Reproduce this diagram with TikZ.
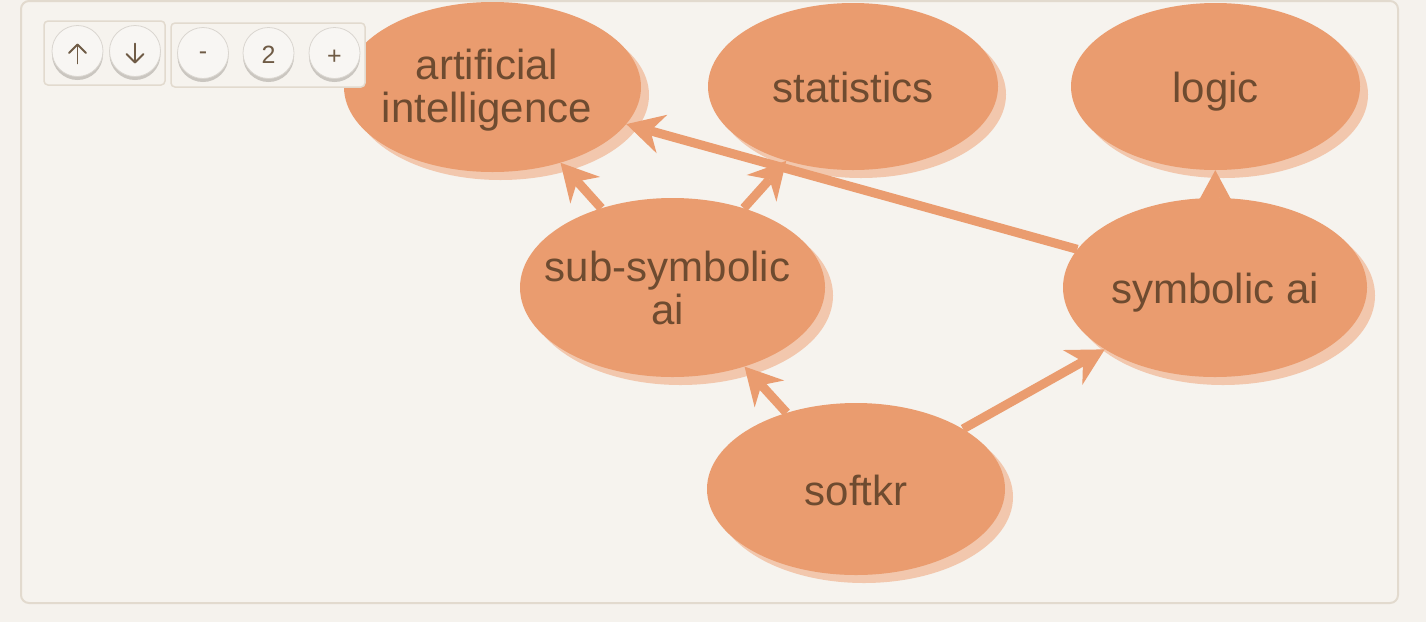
\documentclass[tikz,border=0pt]{standalone}
\usepackage{fontspec}
\setmainfont{Liberation Sans}
\usetikzlibrary{arrows.meta,shapes.geometric,shadows}
\definecolor{bgc}{HTML}{F5F2ED}
\definecolor{panelc}{HTML}{F6F3EE}
\definecolor{panelborder}{HTML}{E2DACE}
\definecolor{nodec}{HTML}{EA9C6F}
\definecolor{shadc}{HTML}{F2C7AD}
\definecolor{txtc}{HTML}{6E4B30}
\definecolor{btnfill}{HTML}{F8F6F3}
\definecolor{btnedge}{HTML}{DAD6D0}
\definecolor{btnshadow}{HTML}{CAC6C0}
\definecolor{glyphc}{HTML}{6F5B45}
\pgfdeclarelayer{shadowlayer}
\pgfdeclarelayer{edgelayer}
\pgfdeclarelayer{toplayer}
\pgfsetlayers{shadowlayer,edgelayer,main,toplayer}
\begin{document}
\begin{tikzpicture}[x=1pt,y=-1pt,
  blob/.style={ellipse, fill=nodec, draw=none, inner sep=0pt},
  lbl/.style={text=txtc, font=\fontsize{42}{43}\selectfont, align=center, inner sep=0pt, text depth=0pt},
  link/.style={draw=nodec, line width=9pt, -{Stealth[length=37pt,width=40pt,inset=12pt,line width=0pt]}},
  grp/.style={fill=panelc, draw=panelborder, line width=1.5pt, rounded corners=4pt},
  btn/.style={circle, minimum size=51pt, inner sep=0pt, fill=btnfill, draw=btnedge, line width=0.8pt,
    text=glyphc, general shadow={fill=btnshadow, draw=none, shadow yshift=-3.5pt}},
  btntxt/.style={text=glyphc, font=\fontsize{25}{25}\selectfont, inner sep=0pt},
  glyph/.style={draw=glyphc, line width=1.8pt, line cap=round, line join=round}
]
\useasboundingbox (0,0) rectangle (1426,622);

% nodes
\node[blob, minimum width=297pt, minimum height=170pt] (ai) at (492.5,87) {};
\node[blob, minimum width=290pt, minimum height=167pt] (stat) at (853,86.5) {};
\node[blob, minimum width=289pt, minimum height=167pt] (logic) at (1215.5,86.5) {};
\node[blob, minimum width=305pt, minimum height=179pt] (sub) at (672.5,287.5) {};
\node[blob, minimum width=304pt, minimum height=179pt] (sym) at (1215,287.5) {};
\node[blob, minimum width=298pt, minimum height=172pt] (soft) at (856,489) {};

\node[lbl] (ai-t) at ([shift={(-5.5,-1)}]ai.center) {artificial\\intelligence};
\node[lbl] (stat-t) at ([shift={(0,1)}]stat.center) {statistics};
\node[lbl] (logic-t) at ([shift={(0,1)}]logic.center) {logic};
\node[lbl] (sub-t) at ([shift={(-5,0)}]sub.center) {sub-symbolic\\ai};
\node[lbl] (sym-t) at ([shift={(0,1)}]sym.center) {symbolic ai};
\node[lbl] (soft-t) at ([shift={(0,1)}]soft.center) {softkr};

% background, panel and shadows
\begin{pgfonlayer}{shadowlayer}
  \fill[bgc] (0,0) rectangle (1426,622);
  \draw[fill=panelc, draw=panelborder, line width=2pt, rounded corners=8pt] (21,1) rectangle (1398,603);
  \fill[shadc] ([shift={(8,8)}]ai.center) ellipse [x radius=148.5pt, y radius=85pt];
  \fill[shadc] ([shift={(8,8)}]stat.center) ellipse [x radius=145pt, y radius=83.5pt];
  \fill[shadc] ([shift={(8,8)}]logic.center) ellipse [x radius=144.5pt, y radius=83.5pt];
  \fill[shadc] ([shift={(8,8)}]sub.center) ellipse [x radius=152.5pt, y radius=89.5pt];
  \fill[shadc] ([shift={(8,8)}]sym.center) ellipse [x radius=152pt, y radius=89.5pt];
  \fill[shadc] ([shift={(8,8)}]soft.center) ellipse [x radius=149pt, y radius=86pt];
\end{pgfonlayer}

% connectors
\begin{pgfonlayer}{edgelayer}
  \draw[link] (sub) -- (ai);
  \draw[link] (sub) -- (stat);
  \draw[link] (sym) -- (ai);
  \draw[link] (sym) -- (logic);
  \draw[link] (soft) -- (sub);
  \draw[link] (soft) -- (sym);
\end{pgfonlayer}

% controls
\begin{pgfonlayer}{toplayer}
  \draw[grp] (44,21) rectangle (165,85);
  \draw[grp] (171,23) rectangle (365,87);
  \node[btn] (up) at (77.5,51) {};
  \node[btn] (down) at (135,51) {};
  \node[btn] (minus) at (203,53) {};
  \node[btn] (level) at (268.5,53) {};
  \node[btn] (plus) at (334.5,53) {};
  \node[btntxt] (minus-t) at ([shift={(0,3)}]minus.center) {-};
  \node[btntxt] (level-t) at ([shift={(0,2)}]level.center) {2};
  \node[btntxt] (plus-t) at ([shift={(0,4)}]plus.center) {+};
  \draw[glyph] ([shift={(0,12.5)}]up.center) -- ([shift={(0,-6.5)}]up.center);
  \draw[glyph] ([shift={(-8.5,2)}]up.center) -- ([shift={(0,-6.5)}]up.center) -- ([shift={(8.5,2)}]up.center);
  \draw[glyph] ([shift={(0,-7.5)}]down.center) -- ([shift={(0,11.5)}]down.center);
  \draw[glyph] ([shift={(-8.5,3)}]down.center) -- ([shift={(0,11.5)}]down.center) -- ([shift={(8.5,3)}]down.center);
\end{pgfonlayer}
\end{tikzpicture}
\end{document}
